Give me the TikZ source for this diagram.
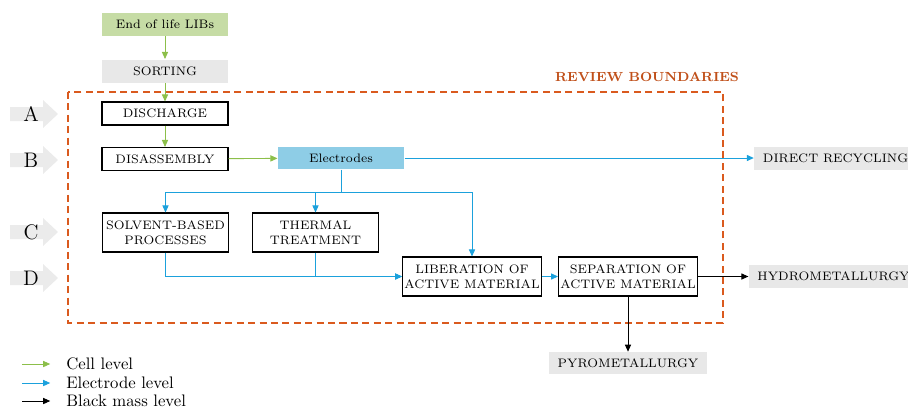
\documentclass[tikz,border=0pt]{standalone}
\usetikzlibrary{arrows.meta}

\definecolor{cellgreen}{HTML}{8CBF4A}
\definecolor{elecblue}{HTML}{1BA1DC}
\definecolor{eolfill}{HTML}{C6DCA5}
\definecolor{elecfill}{HTML}{8ECDE6}
\definecolor{outfill}{HTML}{E8E8E8}
\definecolor{tagfill}{HTML}{EBEBEB}
\definecolor{boundary}{HTML}{DA5A1E}
\definecolor{boundtext}{HTML}{C0501A}

\tikzset{
	box/.style={draw, line width=0.6pt, minimum width=2.52cm, minimum height=0.46cm, inner sep=1pt, align=center, font=\fontsize{7}{8.5}\selectfont},
	tallbox/.style={box, minimum height=0.78cm},
	outbox/.style={fill=outfill, minimum height=0.46cm, inner sep=1pt, align=center, font=\fontsize{7}{8.5}\selectfont},
	cell/.style={draw=cellgreen, line width=0.5pt, -{Triangle[length=4pt,width=3.5pt]}},
	electrode/.style={draw=elecblue, line width=0.5pt, -{Triangle[length=4pt,width=3.5pt]}},
	blackmass/.style={draw=black, line width=0.5pt, -{Triangle[length=4pt,width=3.5pt]}},
	legend/.style={anchor=west, inner sep=0pt, font=\fontsize{9.5}{10}\selectfont},
}

\begin{document}
\begin{tikzpicture}[x=0.02cm, y=-0.02cm]
		\useasboundingbox (0,0) rectangle (908,410);

		% review boundaries
		\draw[boundary, line width=0.9pt, dash pattern=on 4pt off 2.5pt] (68,92) rectangle (723,323);
		\node[text=boundtext, font=\bfseries\fontsize{7.5}{8}\selectfont] (review) at (647,77) {REVIEW BOUNDARIES};

		% stage tags
		\foreach \l/\y in {A/114, B/160, C/232, D/278} {
			\fill[tagfill] (10,\y-7) -- (43,\y-7) -- (43,\y-14) -- (58,\y) -- (43,\y+14) -- (43,\y+7) -- (10,\y+7) -- cycle;
			\node[font=\fontsize{12}{12}\selectfont, inner sep=0pt] (tag\l) at (31,\y) {\l};
		}

		% process boxes
		\node[box, draw=none, fill=eolfill] (eol) at (165,24) {End of life LIBs};
		\node[box, draw=none, fill=outfill] (sort) at (165,71) {SORTING};
		\node[box] (dis) at (165,113.5) {DISCHARGE};
		\node[box] (disa) at (165,159) {DISASSEMBLY};
		\node[box, draw=none, fill=elecfill, minimum height=0.44cm] (elec) at (341,158) {Electrodes};
		\node[tallbox] (solv) at (165.5,232.5) {SOLVENT-BASED\\PROCESSES};
		\node[tallbox] (therm) at (315.5,232.5) {THERMAL\\TREATMENT};
		\node[tallbox, minimum width=2.72cm] (lib) at (472,276.5) {LIBERATION OF\\ACTIVE MATERIAL};
		\node[tallbox, minimum width=2.72cm] (sep) at (628,276.5) {SEPARATION OF\\ACTIVE MATERIAL};

		% end routes
		\node[outbox, minimum width=3.04cm] (direct) at (832,158) {\hspace{4pt}DIRECT RECYCLING};
		\node[outbox, minimum width=3.1cm] (hydro) at (830,276.5) {\hspace{4pt}HYDROMETALLURGY};
		\node[outbox, minimum width=3.18cm, minimum height=0.44cm] (pyro) at (628,363) {PYROMETALLURGY};

		% cell level
		\draw[cell] (eol) -- (sort);
		\draw[cell] (sort) -- (dis);
		\draw[cell] (dis) -- (disa);
		\draw[cell] (disa) -- (elec);

		% electrode level
		\coordinate (split) at (341,192);
		\draw[electrode] (elec) -- (direct);
		\draw[electrode, -] (elec) -- (split);
		\draw[electrode] (split) -| (solv.north);
		\draw[electrode] (split) -| (therm.north);
		\draw[electrode] (split) -| (lib.north);
		\draw[electrode] (solv.south) |- (lib.west);
		\draw[electrode] (therm.south) |- (lib.west);
		\draw[electrode] (lib) -- (sep);

		% black mass level
		\draw[blackmass] (sep) -- (hydro);
		\draw[blackmass] (sep.south) -- (pyro.north);

		% legend
		\coordinate (lg1) at (22,364);
		\coordinate (lg2) at (22,383);
		\coordinate (lg3) at (22,401);
		\node[legend] (lcell) at (66,364) {Cell level};
		\node[legend] (lelec) at (66,383) {Electrode level};
		\node[legend] (lblack) at (66,401) {Black mass level};
		\draw[cell, shorten >=9pt] (lg1) -- (lcell.west);
		\draw[electrode, shorten >=9pt] (lg2) -- (lelec.west);
		\draw[blackmass, shorten >=9pt] (lg3) -- (lblack.west);
	\end{tikzpicture}
\end{document}
